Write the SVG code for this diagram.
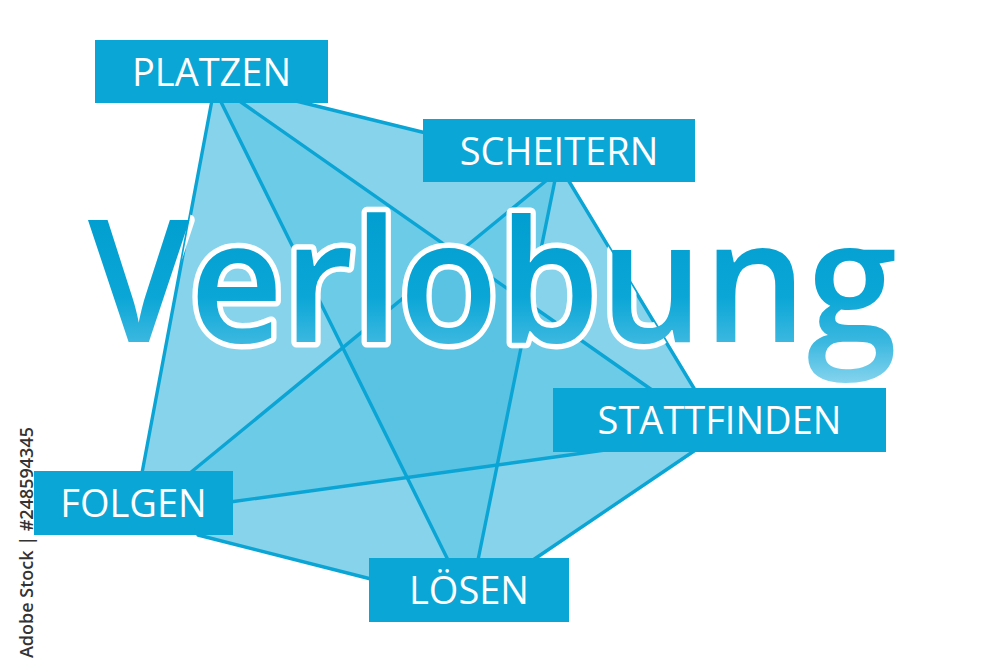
<svg xmlns="http://www.w3.org/2000/svg" width="1000" height="667" viewBox="0 0 1000 667">
  <defs>
    <style>
      .light { fill: #86d3eb; }
      .medium { fill: #6ccbe7; }
      .dark { fill: #5ac3e3; }
      .conn { stroke: #0aa5d5; stroke-width: 3.4; fill: none; stroke-linecap: round; }
      .box { fill: #0aa6d6; }
      .label { font-family: "Open Sans", "Liberation Sans", sans-serif; font-size: 38px; fill: #ffffff; text-anchor: middle; }
      .title { font-family: "Open Sans", "Liberation Sans", sans-serif; font-size: 170px; font-weight: 600; }
    </style>
    <linearGradient id="titleGrad" gradientUnits="userSpaceOnUse" x1="0" y1="205" x2="0" y2="388">
      <stop offset="0" stop-color="#009dd0"/>
      <stop offset="0.5" stop-color="#0aa6d6"/>
      <stop offset="0.75" stop-color="#3bb8e0"/>
      <stop offset="1" stop-color="#8ed7ef"/>
    </linearGradient>
    <clipPath id="hullClip">
      <polygon points="212,100 292,100 430,134 567,178 695,390 694,451 533,560 371,579 198,535 142,473"/>
    </clipPath>
  </defs>

  <rect width="1000" height="667" fill="#ffffff"/>

  <g id="mesh">
    <polygon class="light" points="212,100 142,473 190,473 342.7,347.6 220,100"/>
    <polygon class="medium" points="190,473 230,502 407.1,477.4 342.7,347.6"/>
    <polygon class="light" points="198,535 230,502 407.1,477.4 448,560 371,579"/>
    <polygon class="medium" points="220,100 342.7,347.6 457.3,253.6 238,100"/>
    <polygon class="light" points="238,100 292,100 430,134 547,180 457.3,253.6"/>
    <polygon class="medium" points="457.3,253.6 547,180 555,180 529.8,304.4"/>
    <polygon class="light" points="555,180 567,178 695,390 652,390 529.8,304.4"/>
    <polygon class="dark" points="342.7,347.6 457.3,253.6 529.8,304.4 497.3,464.9 407.1,477.4"/>
    <polygon class="medium" points="529.8,304.4 652,390 605,450 497.3,464.9"/>
    <polygon class="medium" points="407.1,477.4 497.3,464.9 478,560 448,560"/>
    <polygon class="light" points="497.3,464.9 605,450 694,451 533,560 478,560"/>
  </g>

  <g id="connectors">
    <line class="conn" x1="212" y1="100" x2="142" y2="473"/>
    <line class="conn" x1="220" y1="100" x2="448" y2="560"/>
    <line class="conn" x1="238" y1="100" x2="652" y2="390"/>
    <line class="conn" x1="292" y1="100" x2="430" y2="134"/>
    <line class="conn" x1="190" y1="473" x2="547" y2="180"/>
    <line class="conn" x1="230" y1="502" x2="605" y2="450"/>
    <line class="conn" x1="198" y1="535" x2="371" y2="579"/>
    <line class="conn" x1="555" y1="180" x2="478" y2="560"/>
    <line class="conn" x1="533" y1="560" x2="694" y2="451"/>
    <line class="conn" x1="567" y1="178" x2="695" y2="390"/>
  </g>

  <g id="title">
    <g clip-path="url(#hullClip)">
      <text class="title" x="88" y="342" textLength="809" lengthAdjust="spacingAndGlyphs" fill="#ffffff" stroke="#ffffff" stroke-width="11" stroke-linejoin="round">Verlobung</text>
    </g>
    <text class="title" x="88" y="342" textLength="809" lengthAdjust="spacingAndGlyphs" fill="url(#titleGrad)">Verlobung</text>
  </g>

  <g id="node-platzen">
    <rect class="box" x="95" y="40" width="233" height="63"/>
    <text class="label" x="211.5" y="86">PLATZEN</text>
  </g>
  <g id="node-scheitern">
    <rect class="box" x="423" y="119" width="272" height="63"/>
    <text class="label" x="559" y="165">SCHEITERN</text>
  </g>
  <g id="node-stattfinden">
    <rect class="box" x="553" y="388" width="333" height="64"/>
    <text class="label" x="719.5" y="434">STATTFINDEN</text>
  </g>
  <g id="node-folgen">
    <rect class="box" x="34" y="471" width="199" height="64"/>
    <text class="label" x="133.5" y="517">FOLGEN</text>
  </g>
  <g id="node-loesen">
    <rect class="box" x="369" y="558" width="200" height="64"/>
    <text class="label" x="469" y="604">LÖSEN</text>
  </g>

  <g id="watermark-id">
    <text transform="translate(33,427) rotate(-90)" font-family="Open Sans, Liberation Sans, sans-serif" font-size="18" font-weight="600" fill="#333333" text-anchor="end">Adobe Stock | #248594345</text>
  </g>
</svg>
